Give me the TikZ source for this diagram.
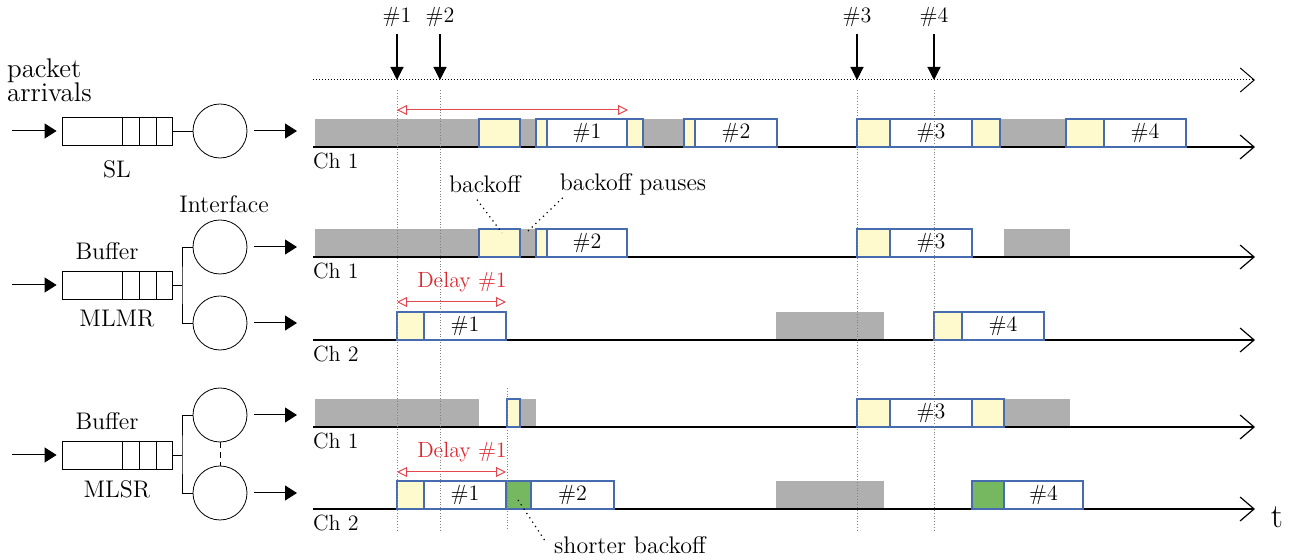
\documentclass[tikz,border=0pt]{standalone}
\usetikzlibrary{arrows.meta,positioning}
\definecolor{busygray}{RGB}{175,175,175}
\definecolor{boyellow}{RGB}{255,250,205}
\definecolor{boblue}{RGB}{70,108,175}
\definecolor{sbogreen}{RGB}{118,184,96}
\definecolor{delayred}{RGB}{222,40,48}

\begin{document}
\begin{tikzpicture}[x=0.5pt,y=-0.5pt,
    font=\fontsize{12}{14}\selectfont,
    axis/.style={line width=0.6pt,-{Straight Barb[length=7pt,width=12pt]}},
    bo/.style={fill=boyellow,draw=boblue,line width=0.55pt},
    sbo/.style={fill=sbogreen,draw=boblue,line width=0.55pt},
    tx/.style={fill=white,draw=boblue,line width=0.55pt},
    guide/.style={densely dotted,gray,line width=0.4pt},
    delay/.style={delayred!85,line width=0.5pt,
        {Triangle[open,length=5pt,width=5pt]}-{Triangle[open,length=5pt,width=5pt]}},
    note/.style={dotted,line width=0.6pt},
    feed/.style={line width=0.5pt,-{Triangle[length=6pt,width=7.5pt]}},
    buffer/.style={draw,minimum width=55pt,minimum height=14pt,inner sep=0pt},
    server/.style={circle,draw,minimum size=27pt,inner sep=0pt},
    small/.style={font=\fontsize{11}{13}\selectfont}]
    \useasboundingbox (0,0) rectangle (1298,560);

    % arrivals
    \node[align=left,anchor=west,font=\fontsize{13.5}{12}\selectfont] (arrivals) at (0,80) {packet\\arrivals};
    \draw[densely dotted,line width=0.5pt,-{Straight Barb[length=7pt,width=12pt]}] (313,80) -- (1255,80);
    \foreach \x/\n in {397/1,440/2,857/3,934/4} {
        \node[small] (arr\n) at (\x,17) {\#\n};
        \coordinate (hit\n) at (\x,80);
        \draw[line width=0.6pt,-{Triangle[length=6.5pt,width=6.5pt]}] (arr\n) -- (hit\n);
    }

    % SL
    \node[buffer] (bufSL) at (117,131) {};
    \node[server] (srvSL) at (220,131) {};
    \node (lblSL) [below=4pt of bufSL] {SL};
    \coordinate (inSL) at (12,131);
    \coordinate (outSL) at (297,131);
    \draw[feed,shorten >=2.5pt] (inSL) -- (bufSL);
    \draw (bufSL) -- (srvSL);
    \draw[feed,shorten <=3.5pt] (srvSL) -- (outSL);

    % MLMR
    \node[buffer] (bufMR) at (117,285) {};
    \node[server] (srvMRa) at (220,247) {};
    \node[server] (srvMRb) at (220,323) {};
    \node (lblMRbuf) [above=2pt of bufMR,xshift=-5pt] {Buffer};
    \node (lblMR) [below=2pt of bufMR] {MLMR};
    \node (lblIf) [above=0pt of srvMRa,xshift=2pt] {Interface};
    \coordinate (inMR) at (12,285);
    \coordinate (forkMR) at (182,285);
    \coordinate (outMRa) at (297,247);
    \coordinate (outMRb) at (297,323);
    \draw[feed,shorten >=2.5pt] (inMR) -- (bufMR);
    \draw (bufMR.east) -- (forkMR);
    \draw (srvMRa.west) -| (forkMR) |- (srvMRb.west);
    \draw[feed,shorten <=3.5pt] (srvMRa) -- (outMRa);
    \draw[feed,shorten <=3.5pt] (srvMRb) -- (outMRb);

    % MLSR
    \node[buffer] (bufSR) at (117,455) {};
    \node[server] (srvSRa) at (220,415) {};
    \node[server] (srvSRb) at (220,493) {};
    \node (lblSRbuf) [above=2pt of bufSR,xshift=-5pt] {Buffer};
    \node (lblSR) [below=2pt of bufSR] {MLSR};
    \coordinate (inSR) at (12,455);
    \coordinate (forkSR) at (182,455);
    \coordinate (outSRa) at (297,415);
    \coordinate (outSRb) at (297,493);
    \draw[feed,shorten >=2.5pt] (inSR) -- (bufSR);
    \draw (bufSR.east) -- (forkSR);
    \draw (srvSRa.west) -| (forkSR) |- (srvSRb.west);
    \draw[densely dashed] (srvSRa) -- (srvSRb);
    \draw[feed,shorten <=3.5pt] (srvSRa) -- (outSRa);
    \draw[feed,shorten <=3.5pt] (srvSRb) -- (outSRb);

    % queue slots
    \foreach \q in {bufSL,bufMR,bufSR}
        \foreach \d in {8,16.5,25}
            \draw ([xshift=-\d pt]\q.north east) -- ([xshift=-\d pt]\q.south east);

    % busy channel
    \foreach \a/\b/\y in {315/479/147,520/536/147,643/684/147,1000/1066/147,
        315/479/257,520/536/257,1004/1070/257,776/884/340,
        315/479/427,520/536/427,1004/1070/427,776/884/509}
        \fill[busygray] (\a,\y) rectangle (\b,\y-28);

    % channels
    \foreach \y in {147,257,340,427,509}
        \draw[axis] (313,\y) -- (1255,\y);
    \foreach \y/\c/\n in {161/1/SL,271/1/MRa,354/2/MRb,441/1/SRa,523/2/SRb}
        \node[small,anchor=west] (ch\n) at (306,\y) {Ch \c};
    \node[font=\fontsize{17}{17}\selectfont] (tlbl) at (1277,517) {t};

    % backoff
    \foreach \a/\b/\y in {479/520/147,536/547/147,627/643/147,684/695/147,
        857/890/147,972/1000/147,1066/1104/147,
        479/520/257,536/547/257,857/890/257,397/424/340,934/962/340,
        507/520/427,857/890/427,972/1004/427,397/424/509}
        \draw[bo] (\a,\y) rectangle (\b,\y-28);
    \foreach \a/\b/\y in {506/531/509,972/1004/509}
        \draw[sbo] (\a,\y) rectangle (\b,\y-28);

    % packets
    \foreach \a/\b/\y/\n [count=\i] in {547/627/147/1,695/777/147/2,890/972/147/3,1104/1186/147/4,
        547/627/257/2,890/972/257/3,424/506/340/1,962/1044/340/4,
        890/972/427/3,424/506/509/1,531/614/509/2,1004/1083/509/4}
        \draw[tx] (\a,\y) rectangle node[small] (pkt\i) {\#\n} (\b,\y-28);

    % arrival times
    \foreach \x in {397,440,857,934}
        \draw[guide] (\x,90) -- (\x,530);
    \draw[guide] (507,388) -- (507,530);

    % delays
    \coordinate (dSLa) at (397,110);
    \coordinate (dSLb) at (628,110);
    \draw[delay] (dSLa) -- (dSLb);
    \node[small,text=delayred] (dlyMR) at (462,282) {Delay \#1};
    \coordinate (dMRa) at (397,302);
    \coordinate (dMRb) at (506,302);
    \draw[delay] (dMRa) -- (dMRb);
    \node[small,text=delayred] (dlySR) at (462,452) {Delay \#1};
    \coordinate (dSRa) at (397,472);
    \coordinate (dSRb) at (506,472);
    \draw[delay] (dSRa) -- (dSRb);

    % notes
    \node (lblBo) at (485,184) {backoff};
    \node (lblBp) at (633,184) {backoff pauses};
    \node (lblSb) at (630,545) {shorter backoff};
    \coordinate (boTip) at (502,233);
    \coordinate (bpTip) at (528,231);
    \coordinate (sbTip) at (518,500);
    \draw[note] ([xshift=-4pt]lblBo.south) -- (boTip);
    \draw[note] ([xshift=5pt,yshift=2pt]lblBp.south west) -- (bpTip);
    \draw[note] (sbTip) -- ([xshift=-1pt,yshift=2pt]lblSb.west);
\end{tikzpicture}
\end{document}
